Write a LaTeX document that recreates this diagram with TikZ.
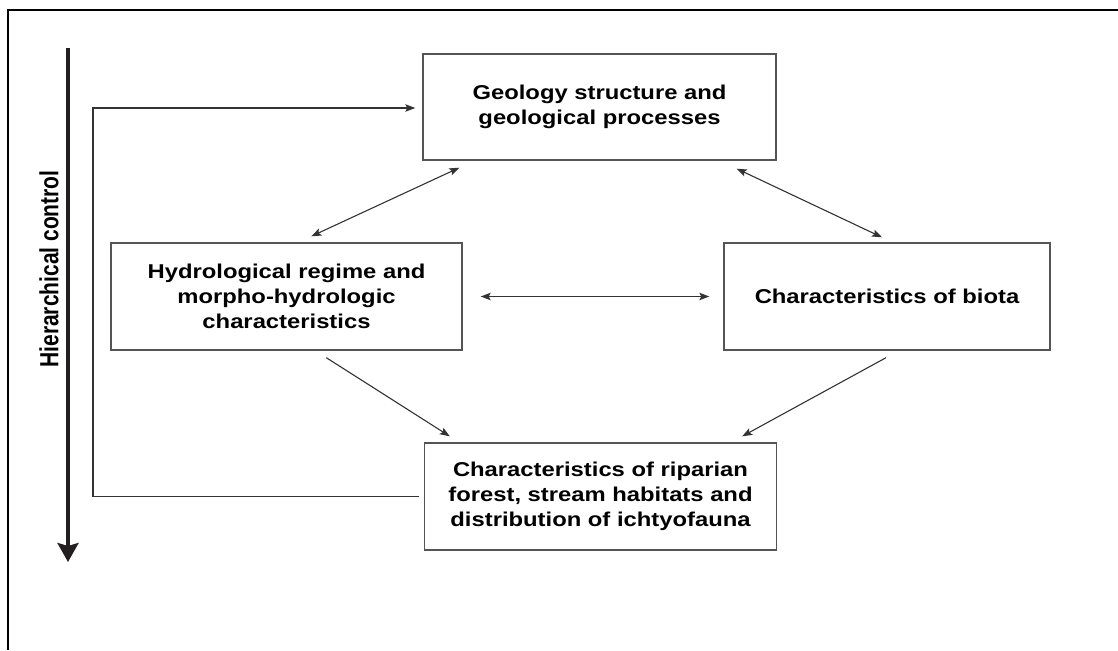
\documentclass[tikz,border=0pt]{standalone}
\usepackage{fontspec}
\usetikzlibrary{arrows.meta}
\newfontfamily\boxfont[FakeStretch=1.19]{Liberation Sans}
\newfontfamily\labfont{Liberation Sans}
\definecolor{boxline}{HTML}{555555}
\definecolor{arr}{HTML}{333333}
\definecolor{dark}{HTML}{231F20}
\tikzset{
  x=1pt, y=-1pt,
  box/.style={draw=boxline, line width=1.4pt, align=center, inner sep=0pt,
    font=\boxfont\bfseries\fontsize{20}{25}\selectfont, text=black},
  conn/.style={draw=arr, line width=1.1pt, -{Stealth[length=10pt,width=7.5pt,inset=2pt]}},
  conn2/.style={draw=arr, line width=1.1pt, {Stealth[length=10pt,width=7.5pt,inset=2pt]}-{Stealth[length=10pt,width=7.5pt,inset=2pt]}},
}
\begin{document}
\begin{tikzpicture}
\useasboundingbox (0,0) rectangle (1118,650);
% frame
\draw[line width=2.7pt, black] (8,650) -- (8,10) -- (1118,10);
% boxes
\node[box, minimum width=353pt, minimum height=106pt] (geo) at (599.5,107) {Geology structure and\\geological processes};
\node[box, minimum width=351pt, minimum height=107pt] (hyd) at (286.5,296.5) {Hydrological regime and\\morpho-hydrologic\\characteristics};
\node[box, minimum width=326pt, minimum height=107pt] (bio) at (887,296.5) {Characteristics of biota};
\node[box, minimum width=352pt, minimum height=107pt] (rip) at (600.5,496.5) {Characteristics of riparian\\forest, stream habitats and\\distribution of ichtyofauna};
% hierarchical control
\coordinate (htop) at (68,48);
\coordinate (hbot) at (68,562);
\draw[dark, line width=3.5pt, -{Stealth[length=19pt,width=21pt,inset=3pt]}] (htop) -- (hbot);
\node[rotate=90, inner sep=0pt, font=\labfont\bfseries\fontsize{21}{25}\selectfont] (hlab) at (49,269) {\scalebox{1}[1.25]{Hierarchical control}};
% connectors
\draw[conn2] ([shift={(37,7)}]geo.south west) -- ([shift={(201,-6)}]hyd.north west);
\draw[conn2] ([shift={(-40,8)}]geo.south east) -- ([shift={(-5,-5)}]bio.north);
\draw[conn2] ([shift={(18,0)}]hyd.east) -- ([shift={(-14,0)}]bio.west);
\draw[conn] ([shift={(216,7)}]hyd.south west) -- ([shift={(26,-6)}]rip.north west);
\draw[conn] ([shift={(-1,7)}]bio.south) -- ([shift={(-35,-6)}]rip.north east);
% feedback
\coordinate (fbl) at (93,496.5);
\coordinate (ftl) at (93,108);
\draw[conn] ([shift={(-5,0)}]rip.west) -- (fbl) -- (ftl) -- ([shift={(-7,1)}]geo.west);
\end{tikzpicture}
\end{document}
